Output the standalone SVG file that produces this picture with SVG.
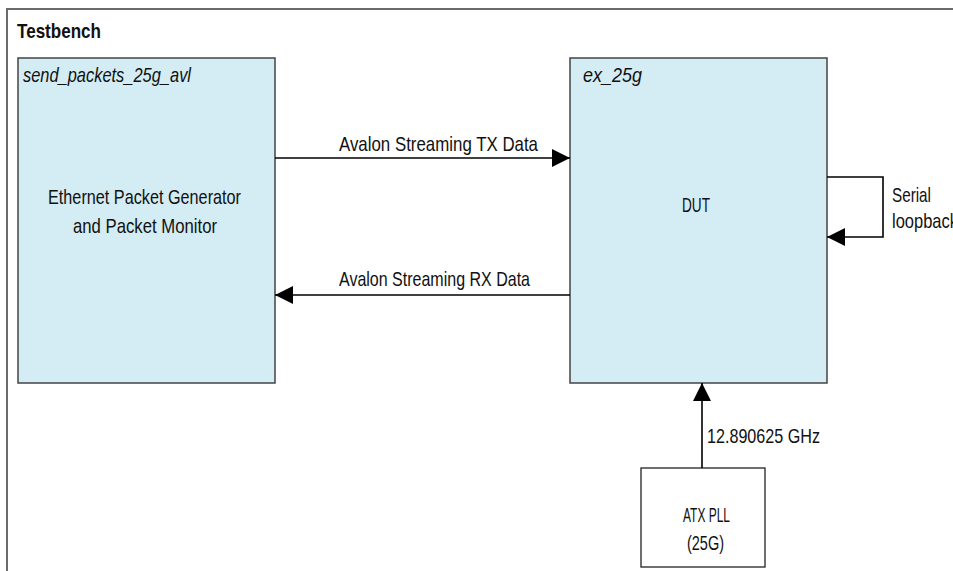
<svg xmlns="http://www.w3.org/2000/svg" width="953" height="571" viewBox="0 0 953 571">
<style>
text{font-family:"Liberation Sans",Arial,sans-serif;font-size:21px;fill:#111}
.blk{fill:#d4ecf3;stroke:#444;stroke-width:1.5}
.wbox{fill:#fff;stroke:#222;stroke-width:1.3}
.ln{fill:none;stroke:#000;stroke-width:1.6}
.it{font-style:italic}
.b{font-weight:bold}
</style>
<defs>
<marker id="ah" viewBox="0 0 18 18" refX="18" refY="9" markerWidth="18" markerHeight="18" markerUnits="userSpaceOnUse" orient="auto">
<path d="M0,0 L18,9 L0,18 Z" fill="#000"/>
</marker>
</defs>
<g id="testbench">
<rect x="7" y="9" width="970" height="590" fill="#fff" stroke="#6b6b6b" stroke-width="2"/>
<text x="17" y="38" class="b" textLength="84" lengthAdjust="spacingAndGlyphs">Testbench</text>
</g>
<g id="send_packets">
<rect class="blk" x="18" y="58" width="257" height="325"/>
<text x="23" y="82" class="it" textLength="168" lengthAdjust="spacingAndGlyphs">send_packets_25g_avl</text>
<text x="48" y="204" textLength="193" lengthAdjust="spacingAndGlyphs">Ethernet Packet Generator</text>
<text x="73" y="233" textLength="144" lengthAdjust="spacingAndGlyphs">and Packet Monitor</text>
</g>
<g id="ex_25g">
<rect class="blk" x="570" y="58" width="257" height="325"/>
<text x="583" y="82" class="it" textLength="59" lengthAdjust="spacingAndGlyphs">ex_25g</text>
<text x="682" y="212" textLength="28" lengthAdjust="spacingAndGlyphs">DUT</text>
</g>
<g id="atx_pll">
<rect class="wbox" x="641" y="468" width="124" height="99"/>
<text x="683" y="522" textLength="47" lengthAdjust="spacingAndGlyphs">ATX PLL</text>
<text x="687" y="550" textLength="37" lengthAdjust="spacingAndGlyphs">(25G)</text>
</g>
<g id="connectors">
<line class="ln" x1="275" y1="158" x2="570" y2="158" marker-end="url(#ah)"/>
<text x="339" y="151" textLength="199" lengthAdjust="spacingAndGlyphs">Avalon Streaming TX Data</text>
<line class="ln" x1="570" y1="295" x2="275" y2="295" marker-end="url(#ah)"/>
<text x="339" y="286" textLength="191" lengthAdjust="spacingAndGlyphs">Avalon Streaming RX Data</text>
<path class="ln" d="M827,177 H883 V237 H827" marker-end="url(#ah)"/>
<text x="892" y="202" textLength="39" lengthAdjust="spacingAndGlyphs">Serial</text>
<text x="892" y="228" textLength="66" lengthAdjust="spacingAndGlyphs">loopback</text>
<line class="ln" x1="702" y1="468" x2="702" y2="383" marker-end="url(#ah)"/>
<text x="707" y="443" textLength="113" lengthAdjust="spacingAndGlyphs">12.890625 GHz</text>
</g>
</svg>
